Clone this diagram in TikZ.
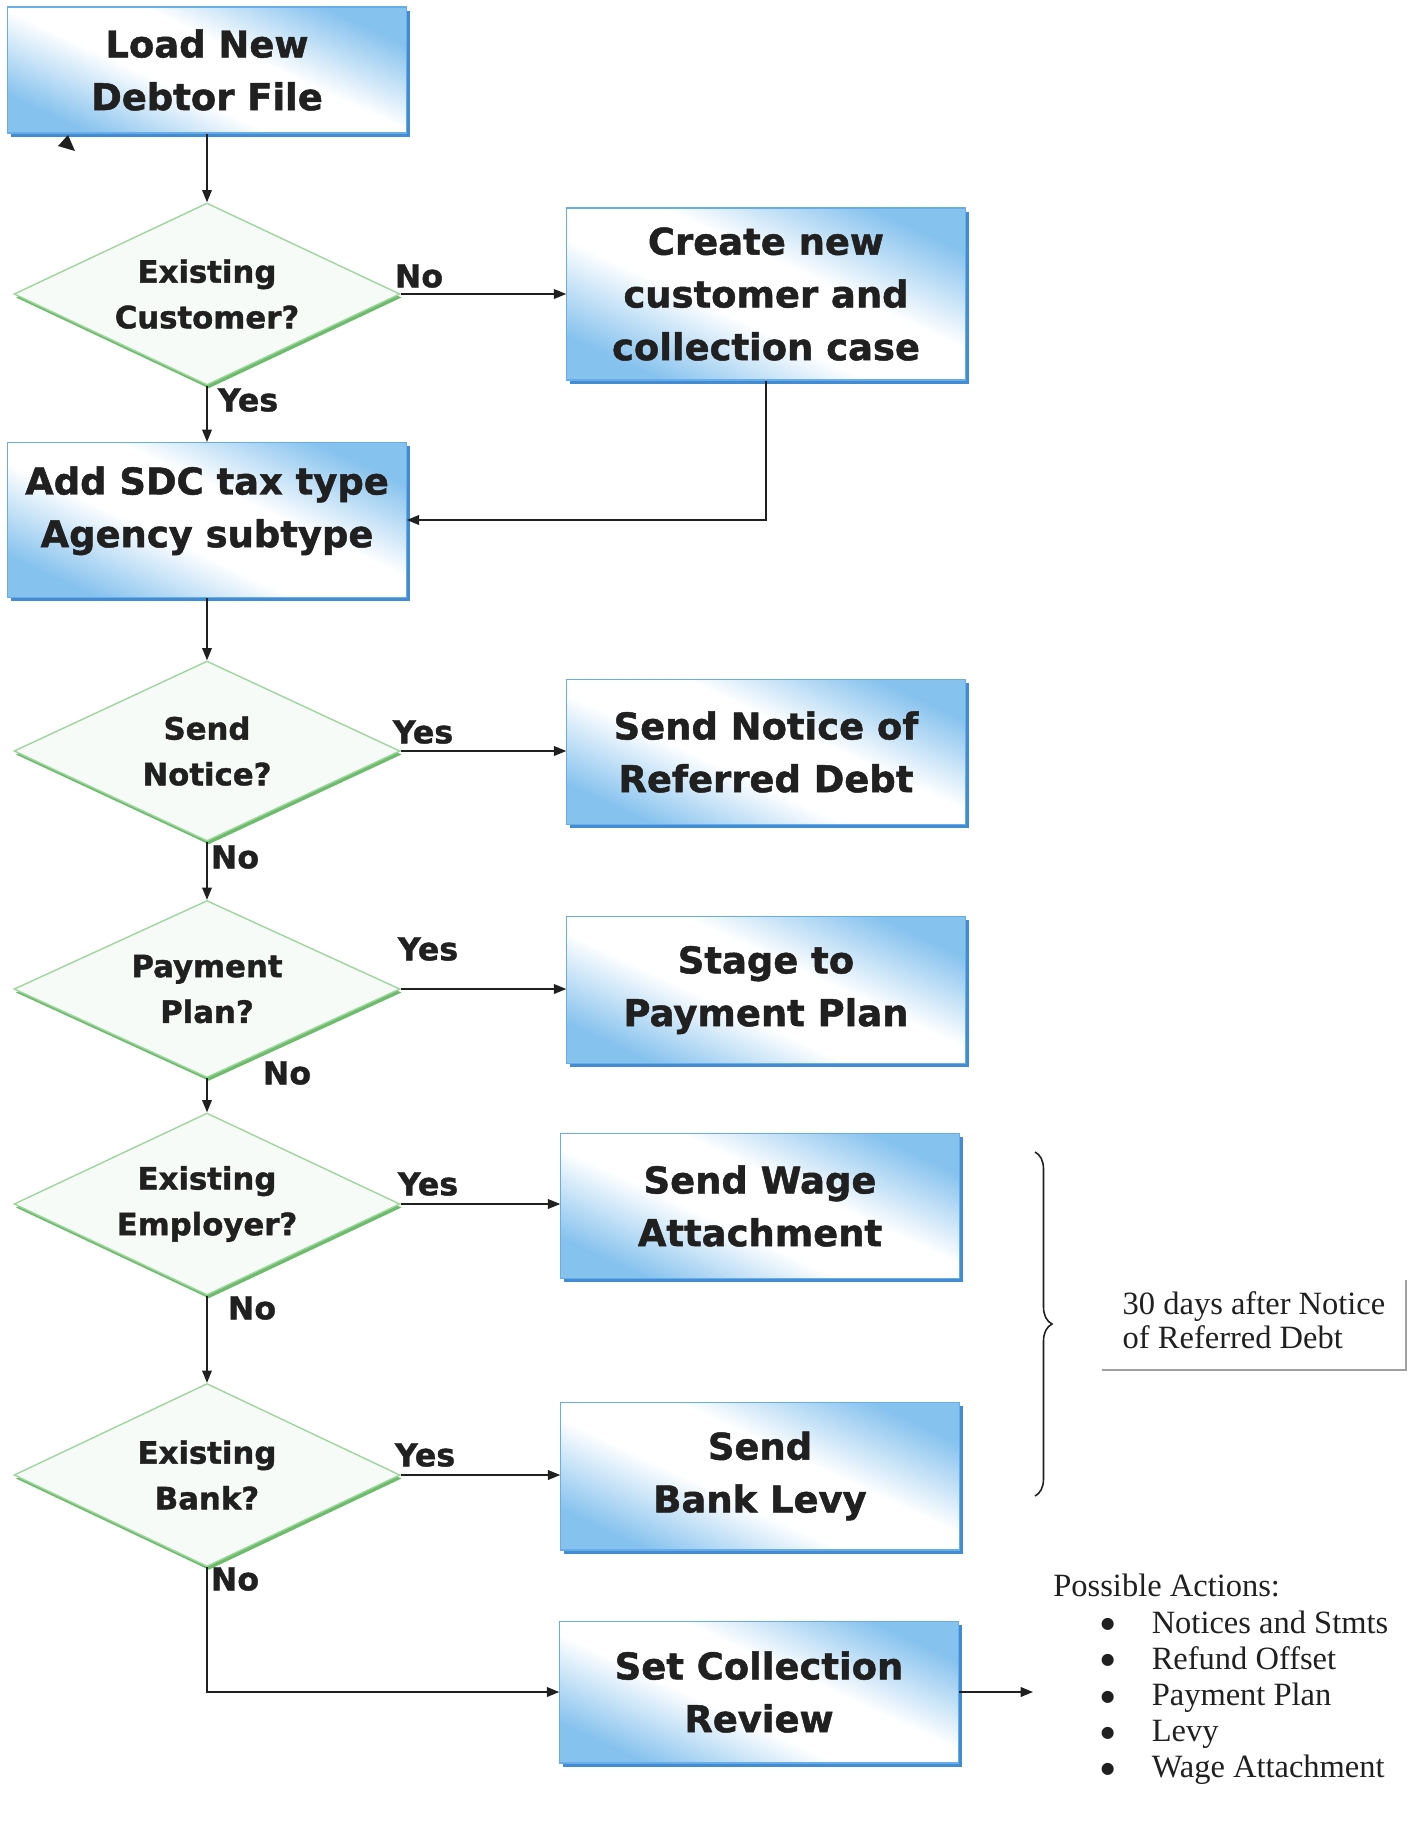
\documentclass[tikz,border=0pt]{standalone}
\usepackage{fontspec}
\setmainfont{Liberation Serif}
\newfontfamily\boxfont{DejaVu Sans}[BoldFeatures={FakeBold=1.3}]
\newfontfamily\puntofont{DejaVu Sans}
\usetikzlibrary{shapes.geometric,arrows.meta,shadows,decorations.pathreplacing}

\definecolor{boxblue}{RGB}{134,194,238}
\definecolor{boxedge}{RGB}{104,172,232}
\definecolor{boxshadow}{RGB}{66,140,212}
\definecolor{diafill}{RGB}{247,251,247}
\definecolor{diaedge}{RGB}{158,214,158}
\definecolor{diashadow}{RGB}{108,188,108}
\definecolor{notegray}{RGB}{160,160,165}
\definecolor{inchiostro}{RGB}{32,32,32}

% riflesso chiaro in diagonale sui box
\pgfdeclareverticalshading{riflesso}{100bp}{color(0bp)=(boxblue); color(25bp)=(boxblue);
  color(43bp)=(white); color(57bp)=(white); color(75bp)=(boxblue); color(100bp)=(boxblue)}

\tikzset{
  passo/.style={rectangle, draw=boxedge, line width=0.6pt,
    shade, shading=riflesso, shading angle=-25,
    drop shadow={shadow xshift=2pt, shadow yshift=-2pt, fill=boxshadow, opacity=1},
    minimum width=7.97cm, inner sep=0pt, align=center, text=inchiostro,
    font=\boxfont\bfseries\fontsize{21}{30}\selectfont},
  scelta/.style={diamond, aspect=2.12, minimum width=7.72cm, minimum height=3.64cm,
    inner sep=0pt, fill=diafill, draw=diaedge, line width=0.8pt,
    drop shadow={shadow xshift=1pt, shadow yshift=-2pt, fill=diashadow, opacity=1},
    align=center, text=inchiostro, font=\boxfont\bfseries\fontsize{17.5}{26}\selectfont},
  risposta/.style={text=inchiostro, inner sep=0pt, font=\boxfont\bfseries\fontsize{18}{20}\selectfont},
  freccia/.style={-{Triangle[length=7pt,width=5.5pt]}, line width=0.8pt, draw=inchiostro},
  nota/.style={align=left, inner sep=0pt, text=inchiostro, font=\fontsize{18.5}{19.5}\selectfont},
  bordonota/.style={draw=notegray, line width=1.1pt},
  graffa/.style={decorate, decoration={brace, amplitude=0.34cm}, line width=0.9pt, draw=inchiostro}
}

\newcommand{\voce}[1]{\hspace*{26pt}\makebox[10pt]{\raisebox{2.5pt}{\puntofont\fontsize{9}{9}\selectfont ●}}\hspace{20pt}#1}

\begin{document}
\begin{tikzpicture}[x=0.02cm, y=-0.02cm]
  \useasboundingbox (0,0) rectangle (1421,1832);

  % colonna sinistra: passi e domande
  \node[passo, minimum height=2.52cm] (load) at (207,70) {Load New\\Debtor File};
  \node[scelta] (cust) at (207,294) {Existing\\Customer?};
  \node[passo, minimum height=3.10cm] (add) at (207,520) {Add SDC tax type\\Agency subtype\\[-24pt]\strut};
  \node[scelta, minimum height=3.60cm] (notq) at (207,751) {Send\\Notice?};
  \node[scelta, minimum height=3.54cm] (planq) at (207,989) {Payment\\Plan?};
  \node[scelta] (empq) at (207,1204) {Existing\\Employer?};
  \node[scelta, minimum height=3.66cm] (bankq) at (207,1475) {Existing\\Bank?};

  % colonna destra: azioni
  \node[passo, minimum height=3.44cm] (create) at (766,294) {Create new\\customer and\\collection case};
  \node[passo, minimum height=2.90cm] (notice) at (766,752) {Send Notice of\\Referred Debt};
  \node[passo, minimum height=2.94cm] (stage) at (766,990) {Stage to\\Payment Plan};
  \node[passo, minimum height=2.90cm] (wage) at (760,1206) {Send Wage\\Attachment};
  \node[passo, minimum height=2.96cm] (levy) at (760,1476) {Send\\Bank Levy};
  \node[passo, minimum height=2.84cm] (review) at (759,1692) {Set Collection\\Review};

  % punta di freccia isolata sotto il primo box
  \fill[inchiostro] (68,135) -- (58,146) -- (75,151) -- cycle;

  % collegamenti
  \draw[freccia] (load.south) -- (cust.north);
  \draw[freccia] (cust.east) -- (cust.east -| create.west);
  \draw[freccia] (create.south) |- (add.east);
  \draw[freccia] (cust.south) -- (add.north);
  \draw[freccia] (add.south) -- (notq.north);
  \draw[freccia] (notq.east) -- (notq.east -| notice.west);
  \draw[freccia] (notq.south) -- (planq.north);
  \draw[freccia] (planq.east) -- (planq.east -| stage.west);
  \draw[freccia] (planq.south) -- (empq.north);
  \draw[freccia] (empq.east) -- (empq.east -| wage.west);
  \draw[freccia] (empq.south) -- (bankq.north);
  \draw[freccia] (bankq.east) -- (bankq.east -| levy.west);
  \draw[freccia] (bankq.south) |- (review.west);
  \coordinate (esito) at (1033,1692);
  \draw[freccia] (review.east) -- (esito);

  % etichette Yes / No
  \node[risposta] (no1) at (419,276) {No};
  \node[risposta] (si1) at (248,400) {Yes};
  \node[risposta] (si2) at (423,732) {Yes};
  \node[risposta] (no2) at (235,857) {No};
  \node[risposta] (si3) at (428,949) {Yes};
  \node[risposta] (no3) at (287,1073) {No};
  \node[risposta] (si4) at (428,1184) {Yes};
  \node[risposta] (no4) at (252,1308) {No};
  \node[risposta] (si5) at (425,1455) {Yes};
  \node[risposta] (no5) at (235,1579) {No};

  % graffa e nota sui 30 giorni
  \coordinate (gtop) at (1035,1152);
  \coordinate (gbot) at (1035,1496);
  \draw[graffa] (gtop) -- (gbot);
  \node[nota, minimum width=6.06cm, minimum height=1.8cm] (giorni) at (1254,1325)
    {30 days after Notice\\of Referred Debt\strut};
  \draw[bordonota] (giorni.north east) -- (giorni.south east) -- (giorni.south west);

  % azioni possibili
  \node[nota, anchor=north west, font=\fontsize{18.5}{20.6}\selectfont] (azioni) at (1053,1574)
    {Possible Actions:\\\voce{Notices and Stmts}\\\voce{Refund Offset}\\\voce{Payment Plan}\\\voce{Levy}\\\voce{Wage Attachment}};
\end{tikzpicture}
\end{document}
